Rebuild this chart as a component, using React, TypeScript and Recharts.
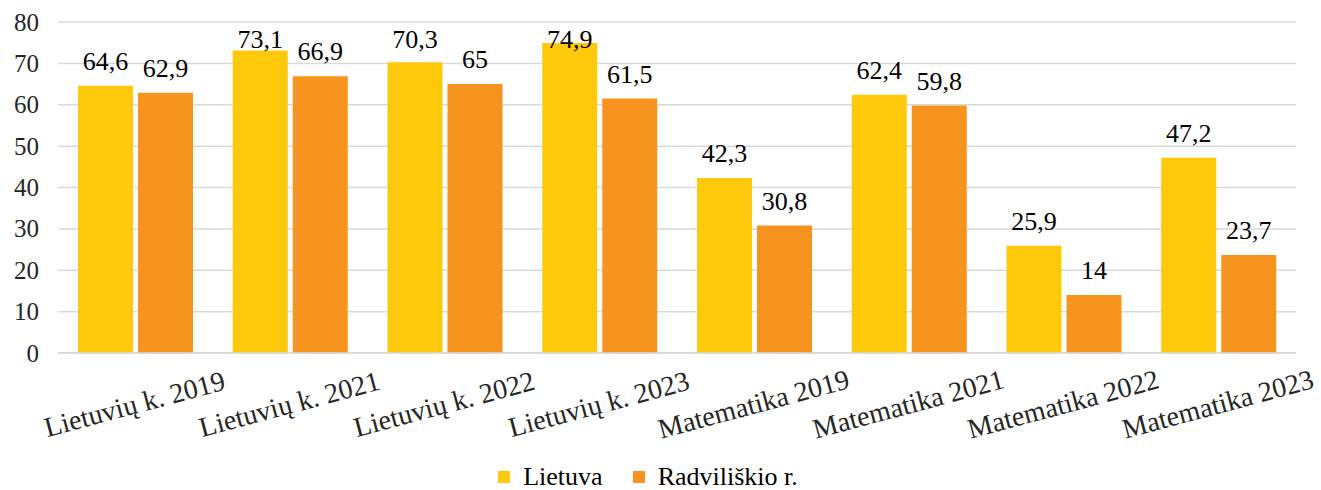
import React from 'react';
import { BarChart, Bar, XAxis, YAxis, CartesianGrid, Legend, LabelList } from 'recharts';

const categories = [
  'Lietuvių k. 2019',
  'Lietuvių k. 2021',
  'Lietuvių k. 2022',
  'Lietuvių k. 2023',
  'Matematika 2019',
  'Matematika 2021',
  'Matematika 2022',
  'Matematika 2023',
];
const lietuva = [64.6, 73.1, 70.3, 74.9, 42.3, 62.4, 25.9, 47.2];
const radviliskio = [62.9, 66.9, 65, 61.5, 30.8, 59.8, 14, 23.7];
const yTicks = [0, 10, 20, 30, 40, 50, 60, 70, 80];
const seriesNames = ['Lietuva', 'Radviliškio r.'];
const seriesColors = ['#FFC90B', '#F7941F'];

const data = categories.map((c, i) => ({ name: c, lietuva: lietuva[i], radv: radviliskio[i] }));

const FONT = "'Liberation Serif', 'Times New Roman', serif";

const fmt = (v: any) => String(v).replace('.', ',');

const XTick = (props: any) => {
  const { x, y, payload } = props;
  return (
    <g transform={`translate(${x},${y + 46})`}>
      <text
        transform="rotate(-15)"
        textAnchor="middle"
        dominantBaseline="middle"
        fontFamily={FONT}
        fontSize={28}
        fill="#262626"
      >
        {payload.value}
      </text>
    </g>
  );
};

const YTick = (props: any) => {
  const { x, y, payload } = props;
  return (
    <text x={x - 8} y={y} textAnchor="end" dominantBaseline="central" fontFamily={FONT} fontSize={25} fill="#262626">
      {payload.value}
    </text>
  );
};

const BarLabel = (props: any) => {
  const { x, y, width, value } = props;
  const baseline = Math.max(y - 16, 48);
  return (
    <text x={x + width / 2} y={baseline} textAnchor="middle" fontFamily={FONT} fontSize={26} fill="#000">
      {fmt(value)}
    </text>
  );
};

const LegendContent = () => (
  <div
    style={{
      display: 'flex',
      justifyContent: 'center',
      alignItems: 'center',
      height: 47,
      paddingTop: 20,
      boxSizing: 'border-box',
      fontFamily: FONT,
      fontSize: 26,
      color: '#000',
    }}
  >
    {seriesNames.map((n, i) => (
      <div key={n} style={{ display: 'flex', alignItems: 'center', marginRight: i === 0 ? 30 : 0 }}>
        <span style={{ width: 12, height: 12, background: seriesColors[i], display: 'inline-block', marginRight: 13 }} />
        <span>{n}</span>
      </div>
    ))}
  </div>
);

export default function App() {
  return (
    <div style={{ position: 'absolute', left: 0, top: 0, width: 1321, height: 490, background: '#fff' }}>
      <BarChart
        width={1321}
        height={490}
        data={data}
        margin={{ top: 22, right: 25, left: 0, bottom: 0 }}
        barCategoryGap={20}
        barGap={5}
      >
        <CartesianGrid vertical={false} stroke="#d9d9d9" strokeWidth={1.5} />
        <XAxis
          dataKey="name"
          interval={0}
          tickLine={false}
          axisLine={{ stroke: '#d9d9d9', strokeWidth: 1.5 }}
          height={90}
          tick={<XTick />}
        />
        <YAxis domain={[0, 80]} ticks={yTicks} width={58} tickLine={false} axisLine={false} tickMargin={5} tick={<YTick />} />
        <Legend verticalAlign="bottom" height={47} content={<LegendContent />} />
        <Bar dataKey="lietuva" name={seriesNames[0]} fill={seriesColors[0]} isAnimationActive={false}>
          <LabelList dataKey="lietuva" content={<BarLabel />} />
        </Bar>
        <Bar dataKey="radv" name={seriesNames[1]} fill={seriesColors[1]} isAnimationActive={false}>
          <LabelList dataKey="radv" content={<BarLabel />} />
        </Bar>
      </BarChart>
    </div>
  );
}
